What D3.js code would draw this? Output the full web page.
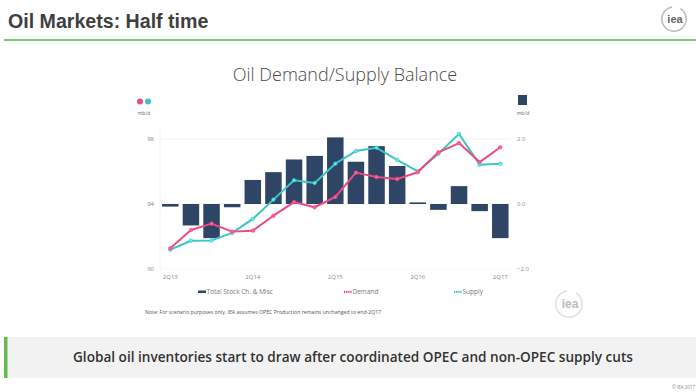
<!DOCTYPE html>
<html><head><meta charset="utf-8">
<script src="https://cdn.jsdelivr.net/npm/d3@7"></script>
<style>
html,body{margin:0;padding:0;background:#fff;}
svg{display:block;}
</style></head>
<body>
<svg id="c" width="700" height="392"></svg>
<script>
const quarters = ["2Q13","3Q13","4Q13","1Q14","2Q14","3Q14","4Q14","1Q15","2Q15","3Q15","4Q15","1Q16","2Q16","3Q16","4Q16","1Q17","2Q17"];
const tickLabels = ["2Q13","2Q14","2Q15","2Q16","2Q17"];
const stockChange = [-0.08,-0.66,-1.05,-0.10,0.74,0.98,1.37,1.48,2.05,1.30,1.78,1.17,0.05,-0.18,0.55,-0.22,-1.05];
const demand = [91.27,92.40,92.79,92.30,92.36,93.28,94.12,93.80,94.43,95.93,95.66,95.54,95.95,97.18,97.75,96.58,97.49];
const supply = [91.19,91.74,91.76,92.22,93.08,94.27,95.46,95.29,96.48,97.26,97.46,96.71,96.01,97.10,98.31,96.42,96.48];
const leftTicks = [90,94,98];
const rightTicks = [-2,0,2];
const seriesNames = ["Total Stock Ch. & Misc","Demand","Supply"];

const C_BAR = "#2f4565", C_DEM = "#ef4a7f", C_SUP = "#3dc3c4";
const FONT = "'Open Sans', 'Noto Sans', sans-serif";
const svg = d3.select("#c");

// Slide header
svg.append("text").attr("x",8).attr("y",28).text("Oil Markets: Half time")
  .attr("font-family","'Liberation Sans', Arial, sans-serif").attr("font-weight","bold")
  .attr("font-size",19.6).attr("fill","#3f3f3f");
svg.append("line").attr("x1",4).attr("x2",696).attr("y1",40).attr("y2",40)
  .attr("stroke","#7dc775").attr("stroke-width",2);
function logo(g, cx, cy, r, col, tcol){
  g.append("path").attr("d", d3.arc()({innerRadius:r-1.6,outerRadius:r,startAngle:0.55,endAngle:2*Math.PI-0.15}))
    .attr("transform",`translate(${cx},${cy})`).attr("fill",col);
  g.append("text").attr("x",cx+1).attr("y",cy+r*0.32).attr("text-anchor","middle")
    .attr("font-family","'Liberation Sans', Arial, sans-serif").attr("font-weight","bold")
    .attr("font-size",r*0.85).attr("fill",tcol).text("iea");
}
logo(svg, 674, 19, 13, "#bdbdbd", "#666");

// Chart
const x = d3.scaleBand().domain(quarters).range([160,510.6]).paddingInner(0.2).paddingOuter(0.1);
const yL = d3.scaleLinear().domain([90,98]).range([269,139]);
const yR = d3.scaleLinear().domain([-2,2]).range([269,139]);

svg.append("text").attr("x",345).attr("y",81).attr("text-anchor","middle")
  .attr("font-family",FONT).attr("font-weight",300).attr("font-size",18).attr("fill","#4a4a4a")
  .text("Oil Demand/Supply Balance");

// grid
svg.append("g").selectAll("line").data(leftTicks).join("line")
  .attr("x1",160).attr("x2",510).attr("y1",d=>yL(d)).attr("y2",d=>yL(d))
  .attr("stroke","#f1f1f1").attr("stroke-width",1)
  .attr("stroke-dasharray",d=>d===90?"2,2":null);
svg.append("line").attr("x1",160).attr("x2",160).attr("y1",125).attr("y2",269).attr("stroke","#f3f3f3");

// axes
const axL = svg.append("g").attr("transform","translate(156,0)")
  .call(d3.axisLeft(yL).tickValues(leftTicks).tickSize(0).tickPadding(2));
const axR = svg.append("g").attr("transform","translate(514,0)")
  .call(d3.axisRight(yR).tickValues(rightTicks).tickSize(0).tickPadding(3).tickFormat(d3.format(".1f")));
const axB = svg.append("g").attr("transform","translate(0,272)")
  .call(d3.axisBottom(x).tickValues(tickLabels).tickSize(0).tickPadding(3));
[axL,axR,axB].forEach(a=>{a.select(".domain").remove();
  a.selectAll("text").attr("font-family",FONT).attr("font-size",6).attr("fill","#8a8a8a");});

// bars
svg.append("g").selectAll("rect").data(quarters).join("rect")
  .attr("x",d=>x(d)).attr("width",x.bandwidth())
  .attr("y",(d,i)=>yR(Math.max(0,stockChange[i])))
  .attr("height",(d,i)=>Math.abs(yR(stockChange[i])-yR(0)))
  .attr("fill",C_BAR);

// lines
function drawLine(vals,col){
  const pts = quarters.map((q,i)=>[x(q)+x.bandwidth()/2, yL(vals[i])]);
  svg.append("path").attr("d",d3.line()(pts)).attr("fill","none")
    .attr("stroke",col).attr("stroke-width",2).attr("stroke-linejoin","round");
  svg.append("g").selectAll("circle").data(pts).join("circle")
    .attr("cx",d=>d[0]).attr("cy",d=>d[1]).attr("r",1.8)
    .attr("fill",d3.color(col).brighter(0.6)).attr("stroke",col).attr("stroke-width",0.6);
}
drawLine(supply,C_SUP);
drawLine(demand,C_DEM);

// unit markers
svg.append("circle").attr("cx",140).attr("cy",101.5).attr("r",3).attr("fill",C_DEM);
svg.append("circle").attr("cx",148).attr("cy",101.5).attr("r",3).attr("fill",C_SUP);
svg.append("text").attr("x",144).attr("y",115).attr("text-anchor","middle").attr("font-family",FONT)
  .attr("font-size",5).attr("fill","#666").text("mb/d");
svg.append("rect").attr("x",518).attr("y",95).attr("width",9).attr("height",10).attr("fill",C_BAR);
svg.append("text").attr("x",523).attr("y",115).attr("text-anchor","middle").attr("font-family",FONT)
  .attr("font-size",5).attr("fill","#666").text("mb/d");

// legend
const legX = [198,344,454];
const legCol = [C_BAR,C_DEM,C_SUP];
const leg = svg.append("g");
seriesNames.forEach((n,i)=>{
  if(i===0){
    leg.append("rect").attr("x",legX[i]).attr("y",290.5).attr("width",8).attr("height",2.5).attr("fill",legCol[i]);
  } else {
    leg.append("line").attr("x1",legX[i]).attr("x2",legX[i]+8).attr("y1",291.8).attr("y2",291.8)
      .attr("stroke",legCol[i]).attr("stroke-width",2.2).attr("stroke-dasharray","1.3,0.8");
  }
  leg.append("text").attr("x",legX[i]+8.5).attr("y",294).attr("font-family",FONT)
    .attr("font-size",6.5).attr("fill","#777").text(n);
});
svg.append("text").attr("x",145).attr("y",313.5).attr("font-family",FONT).attr("font-size",5.2)
  .attr("fill","#555").text("Note: For scenario purposes only. IEA assumes OPEC Production remains unchanged to end-2Q17");

// faded logo
logo(svg, 569, 304, 14, "#e2e2e2", "#bbb");

// bottom strip
svg.append("rect").attr("x",4).attr("y",337).attr("width",692).attr("height",41).attr("fill","#f2f2f2");
svg.append("rect").attr("x",4).attr("y",337).attr("width",3.5).attr("height",41).attr("fill","#67b94f");
svg.append("text").attr("x",353).attr("y",361.5).attr("text-anchor","middle")
  .attr("font-family","'Open Sans', sans-serif").attr("font-weight",600).attr("font-size",13.6)
  .attr("fill","#333").text("Global oil inventories start to draw after coordinated OPEC and non-OPEC supply cuts");
svg.append("text").attr("x",695).attr("y",389).attr("text-anchor","end").attr("font-family",FONT)
  .attr("font-size",4.5).attr("fill","#888").text("© IEA 2017");
</script>
</body></html>
